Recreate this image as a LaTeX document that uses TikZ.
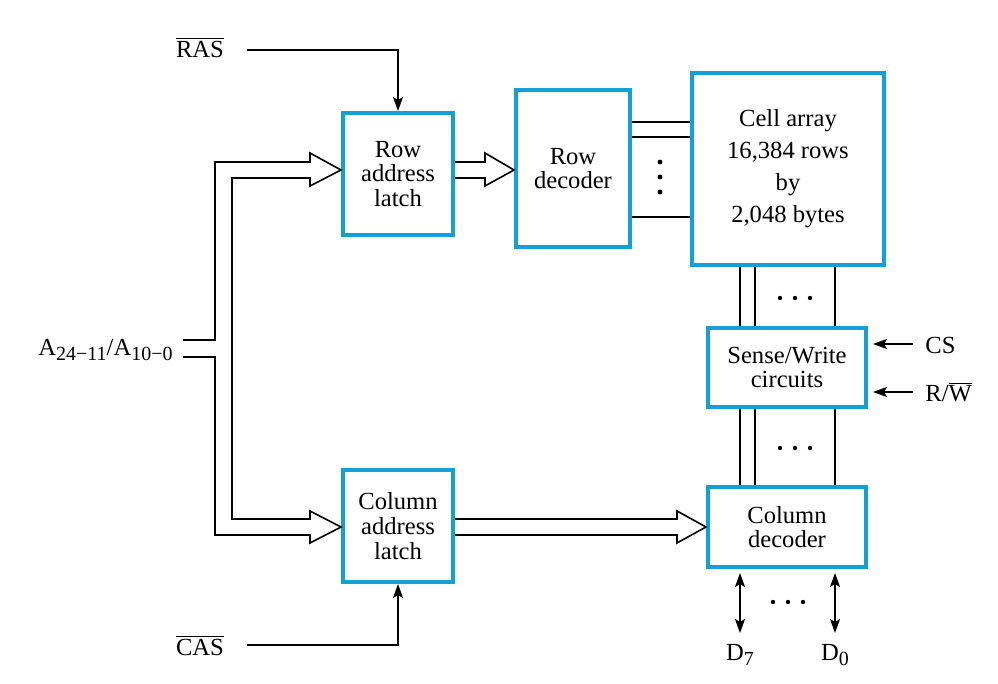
\documentclass[tikz,border=0pt]{standalone}
\usepackage{fontspec}
\setmainfont{Liberation Serif}
\usetikzlibrary{arrows.meta}
\definecolor{boxblue}{RGB}{18,160,215}
\newcommand{\mysub}[1]{\raisebox{-0.5ex}{\fontsize{10}{10}\selectfont #1}}
\newcommand{\fsmain}{\fontsize{12.3}{12.3}\selectfont}
\begin{document}
\begin{tikzpicture}[x=0.5pt,y=-0.5pt,
  box/.style={draw=boxblue,line width=2pt,align=center,font=\fsmain,inner sep=0pt,fill=white},
  lbl/.style={font=\fsmain,inner sep=0pt},
  wire/.style={line width=0.75pt,black},
  sig/.style={line width=0.75pt,-{Stealth[length=7pt,width=5pt,inset=1.5pt]}},
  bisig/.style={line width=0.75pt,{Stealth[length=7pt,width=5pt,inset=1.5pt]}-{Stealth[length=7pt,width=5pt,inset=1.5pt]}},
  bus/.style={line width=0.8pt,line join=miter}]
\useasboundingbox (0,0) rectangle (998,684);

% boxes
\node[box,minimum width=55pt,minimum height=61pt] (rowlatch) at (398,174) {Row\\address\\latch};
\node[box,minimum width=57pt,minimum height=78.5pt] (rowdec) at (573,168.5) {Row\\decoder};
\node[box,minimum width=96pt,minimum height=96pt,font=\fontsize{12.3}{16}\selectfont] (cell) at (788,169) {Cell array\\16,384 rows\\by\\2,048 bytes};
\node[box,minimum width=79pt,minimum height=39.5pt] (sense) at (787,367.5) {Sense/Write\\circuits};
\node[box,minimum width=79pt,minimum height=40pt] (coldec) at (787,527) {Column\\decoder};
\node[box,minimum width=55pt,minimum height=56pt] (collatch) at (398,526) {Column\\address\\latch};

% labels
\node[lbl] (ras) at (200,47) {$\overline{\hbox{\fsmain RAS}}$};
\node[lbl] (cas) at (200,645) {$\overline{\hbox{\fsmain CAS}}$};
\node[lbl,anchor=east] (addr) at (173,350) {A\mysub{24−11}/A\mysub{10−0}};
\node[lbl,anchor=west] (cs) at (925,345) {CS};
\node[lbl,anchor=west] (rw) at (925,392) {R/$\overline{\hbox{\fsmain W}}$};
\node[lbl] (d7) at (740,655) {D\mysub{7}};
\node[lbl] (d0) at (835,655) {D\mysub{0}};

\coordinate (rasS) at (247,50);
\coordinate (casS) at (247,645);
\coordinate (csS) at (913,344);
\coordinate (rwS) at (913,392);

% RAS / CAS
\draw[sig] (rasS) -| (rowlatch.north);
\draw[sig] (casS) -| (collatch.south);

% CS, R/W
\draw[sig] (csS) -- (873,344);
\draw[sig] (rwS) -- (873,392);

% address bus
\draw[bus] (183,340) -- (215,340) -- (215,162) -- (310,162) -- (310,153) -- (rowlatch.west |- 0,170)
  -- (310,186) -- (310,178) -- (232,178) -- (232,519) -- (310,519) -- (310,511)
  -- (collatch.west |- 0,527) -- (310,543) -- (310,535) -- (215,535) -- (215,357) -- (183,357);

% row latch -> row decoder
\draw[bus] (rowlatch.east |- 0,162) -- (485,162) -- (485,153) -- (rowdec.west |- 0,170)
  -- (485,186) -- (485,178) -- (rowlatch.east |- 0,178);

% column latch -> column decoder
\draw[bus] (collatch.east |- 0,519) -- (677,519) -- (677,511) -- (coldec.west |- 0,527)
  -- (677,543) -- (677,535) -- (collatch.east |- 0,535);

% row decoder -> cell array
\foreach \yy in {122,137,217}
  \draw[wire] (rowdec.east |- 0,\yy) -- (cell.west |- 0,\yy);
\foreach \yy in {162,177,192}
  \fill (660,\yy) circle (2.4);

% cell array -> sense -> column decoder
\foreach \xx in {740,755,835} {
  \draw[wire] (cell.south -| \xx,0) -- (sense.north -| \xx,0);
  \draw[wire] (sense.south -| \xx,0) -- (coldec.north -| \xx,0);
}
\foreach \xx in {780,795,810} {
  \fill (\xx,298) circle (2.2);
  \fill (\xx,448) circle (2.2);
}

% data lines
\coordinate (d7top) at (740,573);
\coordinate (d0top) at (835,573);
\draw[bisig] (d7top) -- (d7.north |- 0,633);
\draw[bisig] (d0top) -- (d0.north |- 0,633);
\foreach \xx in {773,788,803}
  \fill (\xx,602) circle (2.2);
\end{tikzpicture}
\end{document}
